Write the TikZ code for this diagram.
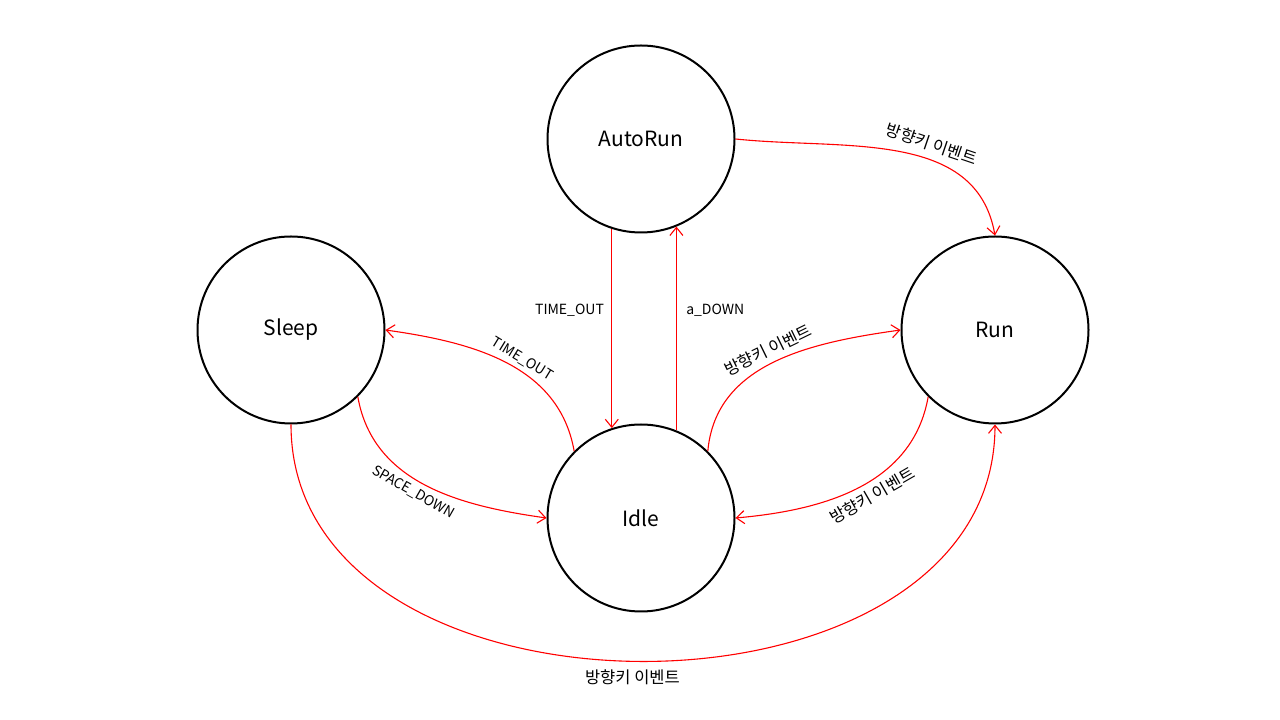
\documentclass[tikz,border=0pt]{standalone}
\usepackage{fontspec}
\setmainfont{Noto Sans CJK KR}
\usetikzlibrary{arrows.meta}

\begin{document}
\begin{tikzpicture}[x=1pt, y=1pt,
    state/.style = {circle, draw, line width=2pt, minimum size=187pt, inner sep=0pt, font=\fontsize{21}{24}\selectfont},
    trans/.style = {red, line width=1.1pt, -{Straight Barb[length=8pt, width=13pt]}},
    lbl/.style = {font=\fontsize{14}{16}\selectfont, text=black},
    klbl/.style = {font=\fontsize{16.5}{18}\selectfont, text=black}]
    \useasboundingbox (0,0) rectangle (1280,720);
    % states (pixel grid, y measured upwards)
    \node[state] (autorun) at (641,581) {AutoRun};
    \node[state] (sleep) at (291,390) {Sleep};
    \node[state] (run) at (995,390) {Run};
    \node[state] (idle) at (641,202) {Idle};
    % transitions
    \draw[trans] (autorun.east) to[out=-6, in=100]
        node[klbl, pos=0.6, sloped, above=4pt] {방향키 이벤트} (run.north);
    \draw[trans] (autorun.252) --
        node[lbl, pos=0.41, left=4pt] {TIME\_OUT} (idle.108);
    \draw[trans] (idle.68) --
        node[lbl, pos=0.59, right=6pt] {a\_DOWN} (autorun.292);
    \draw[trans] (idle.135) to[out=100, in=-8]
        node[lbl, pos=0.45, sloped, above=1pt] {TIME\_OUT} (sleep.east);
    \draw[trans] (sleep.-45) to[out=-80, in=172]
        node[lbl, pos=0.47, sloped, below=2pt] {SPACE\_DOWN} (idle.west);
    \draw[trans] (idle.45) to[out=85, in=188]
        node[klbl, pos=0.5, sloped, above=2pt] {방향키 이벤트} (run.west);
    \draw[trans] (run.225) to[out=-100, in=5]
        node[klbl, pos=0.47, sloped, below=2pt] {방향키 이벤트} (idle.east);
    \draw[trans] (sleep.south) to[out=-90, in=-90, looseness=1.15]
        node[klbl, pos=0.49, below=5pt] {방향키 이벤트} (run.south);
\end{tikzpicture}
\end{document}
